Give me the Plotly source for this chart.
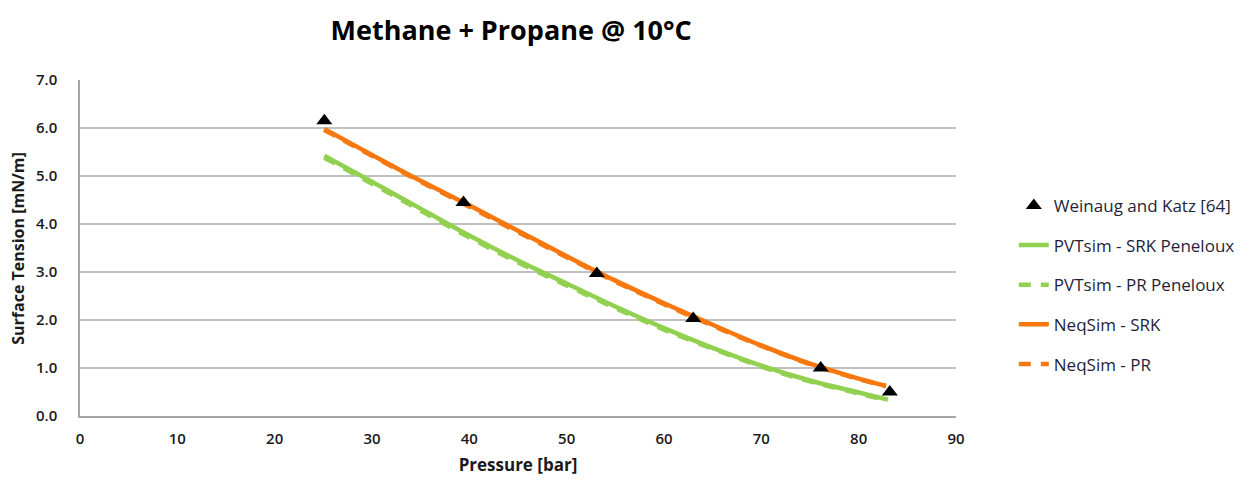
import plotly.graph_objects as go

# Measured surface tension, Weinaug and Katz [64]
exp_p = [25.1, 39.4, 53.1, 63.0, 76.1, 83.2]
exp_st = [6.15, 4.45, 2.97, 2.03, 1.00, 0.50]

# Model predictions (pressure in bar, surface tension in mN/m)
pvt_srk_p = [25.1, 30.0, 35.0, 40.0, 45.0, 50.0, 55.0, 60.0, 65.0, 70.0, 75.0, 80.0, 83.0]
pvt_srk_st = [5.42, 4.88, 4.32, 3.76, 3.24, 2.76, 2.28, 1.83, 1.42, 1.05, 0.74, 0.49, 0.34]

pvt_pr_p = [25.1, 30.0, 35.0, 40.0, 45.0, 50.0, 55.0, 60.0, 65.0, 70.0, 75.0, 80.0, 83.0]
pvt_pr_st = [5.38, 4.84, 4.28, 3.72, 3.20, 2.72, 2.25, 1.80, 1.40, 1.03, 0.72, 0.47, 0.32]

neq_srk_p = [25.1, 30.0, 35.0, 40.0, 45.0, 50.0, 55.0, 60.0, 65.0, 70.0, 75.0, 80.0, 82.8]
neq_srk_st = [5.98, 5.44, 4.90, 4.39, 3.86, 3.33, 2.82, 2.35, 1.90, 1.47, 1.09, 0.78, 0.63]

neq_pr_p = [25.1, 30.0, 35.0, 40.0, 45.0, 50.0, 55.0, 60.0, 65.0, 70.0, 75.0, 80.0, 82.8]
neq_pr_st = [5.96, 5.42, 4.88, 4.36, 3.83, 3.31, 2.80, 2.33, 1.88, 1.46, 1.08, 0.77, 0.62]

x_ticks = [0, 10, 20, 30, 40, 50, 60, 70, 80, 90]
y_ticks = [0, 1, 2, 3, 4, 5, 6, 7]

GREEN = "#92d050"
ORANGE = "#f7780f"
FONT = "Open Sans, Lato, sans-serif"

fig = go.Figure()

fig.add_trace(go.Scatter(
    x=pvt_srk_p, y=pvt_srk_st, mode="lines", name="PVTsim - SRK Peneloux",
    line=dict(color=GREEN, width=4.5, shape="spline"), legendgroup="b", legendrank=2,
))
fig.add_trace(go.Scatter(
    x=pvt_pr_p, y=pvt_pr_st, mode="lines", name="PVTsim - PR Peneloux",
    line=dict(color=GREEN, width=4.5, dash="12px,10px", shape="spline"), legendgroup="c", legendrank=3,
))
fig.add_trace(go.Scatter(
    x=neq_srk_p, y=neq_srk_st, mode="lines", name="NeqSim - SRK",
    line=dict(color=ORANGE, width=4.5, shape="spline"), legendgroup="d", legendrank=4,
))
fig.add_trace(go.Scatter(
    x=neq_pr_p, y=neq_pr_st, mode="lines", name="NeqSim - PR",
    line=dict(color=ORANGE, width=4.5, dash="12px,10px", shape="spline"), legendgroup="e", legendrank=5,
))
# Markers drawn last so they sit on top of the curves, but listed first in the legend
fig.add_trace(go.Scatter(
    x=exp_p, y=exp_st, mode="markers", name="Weinaug and Katz [64]",
    marker=dict(symbol="triangle-up", size=14, color="black"),
    legendgroup="a", legendrank=1,
))

fig.update_layout(
    width=1259, height=484,
    margin=dict(l=80, r=303, t=80, b=68),
    paper_bgcolor="white", plot_bgcolor="white",
    font=dict(family=FONT, size=15, color="#1a1a1a"),
    title=dict(
        text="<b>Methane + Propane @ 10°C</b>",
        x=0.406, xanchor="center", y=0.937, yanchor="middle",
        font=dict(family=FONT, size=27, color="black"),
    ),
    legend=dict(
        x=1.066, xanchor="left", y=0.39, yanchor="middle",
        traceorder="grouped", tracegroupgap=14.5,
        font=dict(family=FONT, size=17, color="#1f1f3a"),
        bgcolor="rgba(0,0,0,0)",
    ),
    showlegend=True,
)

# Y-axis title placed as a rotated annotation so it can sit close to the page edge
fig.add_annotation(
    text="<b>Surface Tension [mN/m]</b>", textangle=-90,
    xref="paper", yref="paper", x=-0.071, y=0.5,
    xanchor="center", yanchor="middle", showarrow=False,
    font=dict(family=FONT, size=16, color="#1a1a1a"),
)

fig.update_xaxes(
    range=[0, 90], tickvals=x_ticks, ticktext=[str(v) for v in x_ticks],
    showgrid=False, zeroline=False,
    showline=True, linecolor="#a6a6a6", linewidth=1.5,
    ticks="", ticklabelstandoff=8,
    tickfont=dict(family=FONT, size=15, weight=600),
    title=dict(text="<b>Pressure [bar]</b>", font=dict(family=FONT, size=17), standoff=12),
)
fig.update_yaxes(
    range=[0, 7], tickvals=y_ticks, ticktext=[f"{v:.1f}" for v in y_ticks],
    showgrid=True, gridcolor="#c0c0c0", gridwidth=1.5, zeroline=False,
    showline=True, linecolor="#a6a6a6", linewidth=1.5,
    ticks="", ticklabelstandoff=18,
    tickfont=dict(family=FONT, size=15, weight=600),
)

fig.write_html("out.html")
